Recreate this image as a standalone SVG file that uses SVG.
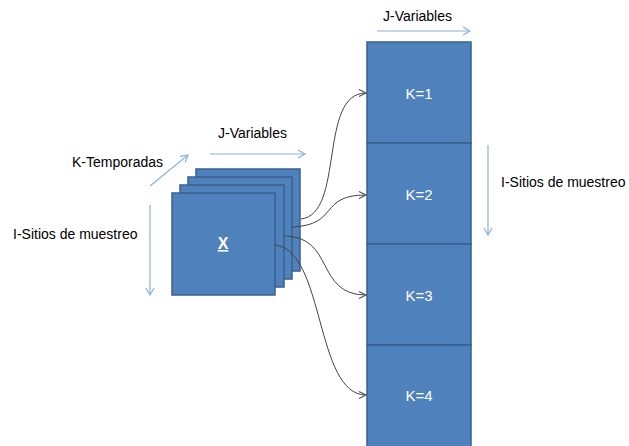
<svg xmlns="http://www.w3.org/2000/svg" width="629" height="446" viewBox="0 0 629 446">
<defs>
<marker id="blueHead" markerWidth="10" markerHeight="10" refX="8" refY="5" orient="auto" markerUnits="userSpaceOnUse">
<path d="M1,1 L8,5 L1,9" fill="none" stroke="#8EB0DA" stroke-width="1.2"/>
</marker>
<marker id="greyHead" markerWidth="10" markerHeight="10" refX="8" refY="5" orient="auto" markerUnits="userSpaceOnUse">
<path d="M1,1.5 L8,5 L1,8.5" fill="none" stroke="#555" stroke-width="1.2"/>
</marker>
<style>
.lbl{font-family:"Liberation Sans",Arial,sans-serif;font-size:14px;fill:#000}
.cell{fill:#4F81BD;stroke:#3A5F8E;stroke-width:1.5}
.ktxt{font-family:"Liberation Sans",Arial,sans-serif;font-size:15px;fill:#fff;text-anchor:middle}
.axis{stroke:#8EB0DA;stroke-width:1.2;fill:none;marker-end:url(#blueHead)}
.conn{stroke:#444;stroke-width:1;fill:none;marker-end:url(#greyHead)}
</style>
</defs>
<rect width="629" height="446" fill="#fff"/>
<g id="axes">
<line class="axis" x1="377" y1="31" x2="470" y2="31"/>
<line class="axis" x1="210" y1="154" x2="305" y2="154"/>
<line class="axis" x1="150" y1="186" x2="188" y2="155"/>
<line class="axis" x1="150" y1="205" x2="150" y2="295"/>
<line class="axis" x1="488" y1="145" x2="488" y2="235"/>
</g>
<g id="labels">
<text class="lbl" x="383" y="21">J-Variables</text>
<text class="lbl" x="218" y="138">J-Variables</text>
<text class="lbl" x="72" y="167">K-Temporadas</text>
<text class="lbl" x="13" y="239">I-Sitios de muestreo</text>
<text class="lbl" x="501" y="187">I-Sitios de muestreo</text>
</g>
<g id="stackX">
<rect class="cell" x="196" y="169" width="104" height="102"/>
<rect class="cell" x="188" y="177" width="104" height="102"/>
<rect class="cell" x="180" y="185" width="104" height="102"/>
<rect class="cell" x="172" y="193" width="103" height="102"/>
<text x="223" y="249" font-family="'Liberation Sans',Arial,sans-serif" font-size="16" font-weight="bold" fill="#fff" text-anchor="middle" text-decoration="underline">X</text>
</g>
<g id="k1"><rect class="cell" x="367" y="42" width="104" height="101"/><text class="ktxt" x="419" y="99">K=1</text></g>
<g id="k2"><rect class="cell" x="367" y="143" width="104" height="101"/><text class="ktxt" x="419" y="200">K=2</text></g>
<g id="k3"><rect class="cell" x="367" y="244" width="104" height="101"/><text class="ktxt" x="419" y="301">K=3</text></g>
<g id="k4"><rect class="cell" x="367" y="345" width="104" height="102"/><text class="ktxt" x="419" y="401">K=4</text></g>
<g id="connectors">
<path class="conn" d="M301,219 C345,214 318,93 366,93"/>
<path class="conn" d="M292,227 C340,225 318,195 366,195"/>
<path class="conn" d="M284,236 C335,236 315,295 366,295"/>
<path class="conn" d="M275,245 C325,250 315,395 366,395"/>
</g>
</svg>
